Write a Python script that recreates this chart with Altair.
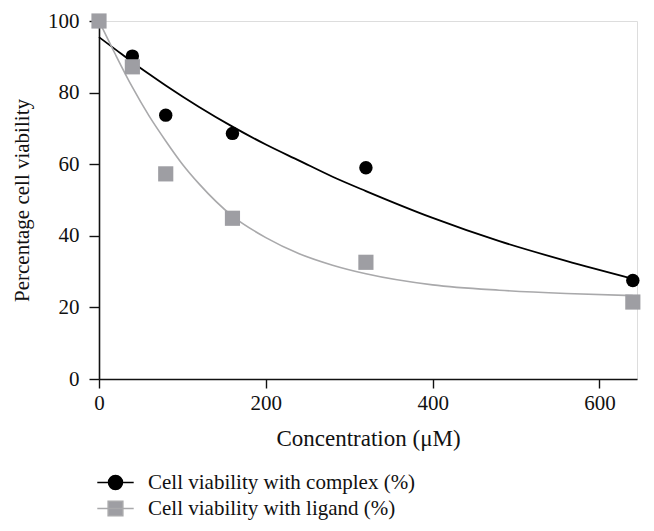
import altair as alt
import pandas as pd

# Measured points
conc = [0, 40, 80, 160, 320, 640]
complex_pts = [100, 90.2, 73.7, 68.6, 59.0, 27.5]
ligand_pts = [100, 87.2, 57.3, 44.9, 32.6, 21.5]

# Fitted curves
complex_curve_x = [0, 20, 40, 60, 80, 120, 160, 200, 240, 280, 320, 400, 480, 560, 640]
complex_curve_y = [95.5, 92, 88.5, 85.2, 82, 76, 70.5, 65.5, 61, 56.5, 52.5, 45, 38.5, 33, 28]
ligand_curve_x = [0, 20, 40, 60, 80, 100, 120, 160, 200, 240, 280, 320, 400, 480, 560, 640]
ligand_curve_y = [100, 90.5, 81.5, 73.5, 66.5, 60, 54.5, 45.5, 39.5, 35, 31.8, 29.4, 26.3, 24.8, 23.9, 23.3]

series_names = ["Cell viability with complex (%)", "Cell viability with ligand (%)"]
marker_colors = ["#000000", "#9e9ea3"]
line_colors = ["#000000", "#a9a9ab"]
x_ticks = [0, 200, 400, 600]
y_ticks = [0, 20, 40, 60, 80, 100]

FONT = "Liberation Serif"
LBL = 21
TTL = 21

pts_c = pd.DataFrame({"x": conc, "y": complex_pts})
pts_l = pd.DataFrame({"x": conc, "y": ligand_pts})
cur_c = pd.DataFrame({"x": complex_curve_x, "y": complex_curve_y})
cur_l = pd.DataFrame({"x": ligand_curve_x, "y": ligand_curve_y})
leg = pd.DataFrame({"series": series_names})

xscale = alt.Scale(domain=[0, 645], nice=False, zero=False)
yscale = alt.Scale(domain=[0, 100], nice=False)

xaxis = alt.Axis(values=x_ticks, title="Concentration (μM)", grid=False,
                 domainColor="#111", domainWidth=1.6, tickColor="#111", tickWidth=1.4,
                 tickSize=9, labelFont=FONT, labelFontSize=LBL, labelColor="#111",
                 labelPadding=4, labelFlush=False,
                 titleFont=FONT, titleFontSize=23, titleFontWeight="normal",
                 titleColor="#111", titleX=269, titleY=59, titleBaseline="middle")
yaxis = alt.Axis(values=y_ticks, title="Percentage cell viability", grid=False,
                 domainColor="#111", domainWidth=1.6, tickColor="#111", tickWidth=1.4,
                 tickSize=10, labelFont=FONT, labelFontSize=LBL, labelColor="#111",
                 labelPadding=10, labelBaseline="middle", labelFlush=False,
                 titleFont=FONT, titleFontSize=TTL, titleFontWeight="normal",
                 titleColor="#111", titleX=-77, titleY=179, titleAngle=270,
                 titleAlign="center", titleBaseline="middle")

base_x = alt.X("x:Q", scale=xscale, axis=xaxis)
base_y = alt.Y("y:Q", scale=yscale, axis=yaxis)

line_c = alt.Chart(cur_c).mark_line(color=line_colors[0], strokeWidth=1.8, interpolate="monotone", clip=False).encode(
    x=base_x, y=base_y)
line_l = alt.Chart(cur_l).mark_line(color=line_colors[1], strokeWidth=1.6, interpolate="monotone", clip=False).encode(
    x=alt.X("x:Q", scale=xscale), y=alt.Y("y:Q", scale=yscale))
p_c = alt.Chart(pts_c).mark_point(shape="circle", filled=True, size=180, opacity=1,
                                   color=marker_colors[0], clip=False).encode(
    x=alt.X("x:Q", scale=xscale), y=alt.Y("y:Q", scale=yscale))
p_l = alt.Chart(pts_l).mark_point(shape="square", filled=True, size=230, opacity=1,
                                   color=marker_colors[1], clip=False).encode(
    x=alt.X("x:Q", scale=xscale), y=alt.Y("y:Q", scale=yscale))

circle_path = "M-2.6,0 L2.6,0 M-1,0 A1,1 0 1,0 1,0 A1,1 0 1,0 -1,0 Z"
square_path = "M-2.6,0 L2.6,0 M-1.05,-1.05 L1.05,-1.05 L1.05,1.05 L-1.05,1.05 Z"

legend_layer = alt.Chart(leg).mark_point(filled=True, opacity=0, size=196, strokeWidth=1.5).encode(
    shape=alt.Shape("series:N", scale=alt.Scale(domain=series_names, range=[circle_path, square_path]),
                    legend=alt.Legend(title=None, orient="none", legendX=6, legendY=451,
                                      symbolOpacity=1, symbolSize=196, symbolStrokeWidth=1.5,
                                      labelFont=FONT, labelFontSize=TTL, labelColor="#111",
                                      labelOffset=22, rowPadding=4, labelLimit=450)),
    fill=alt.Fill("series:N", scale=alt.Scale(domain=series_names, range=marker_colors)),
    stroke=alt.Stroke("series:N", scale=alt.Scale(domain=series_names, range=line_colors)),
)

chart = alt.layer(line_c, line_l, p_c, p_l, legend_layer).properties(
    width=538, height=358,
    autosize=alt.AutoSizeParams(type="none"),
    padding={"left": 91, "top": 13, "right": 9, "bottom": 144},
).configure_view(stroke=None).configure(background="white")

chart.save("out.html", embed_options={"renderer": "svg", "actions": False})
